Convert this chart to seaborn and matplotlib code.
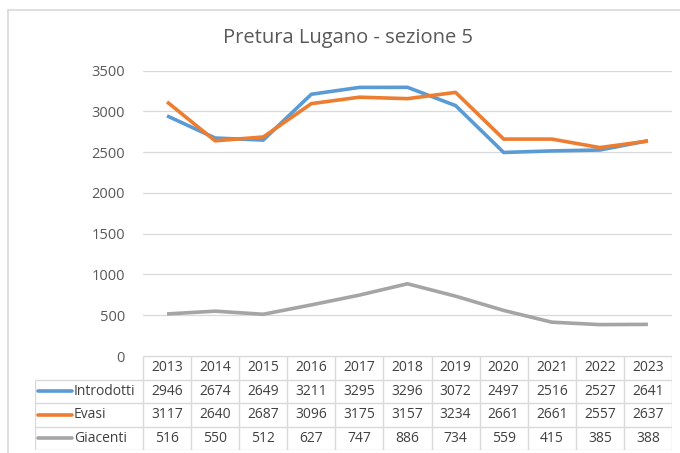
import matplotlib
matplotlib.use('Agg')
import matplotlib.pyplot as plt
import seaborn as sns
import pandas as pd
from matplotlib.patches import Rectangle

years = [2013, 2014, 2015, 2016, 2017, 2018, 2019, 2020, 2021, 2022, 2023]
introdotti = [2946, 2674, 2649, 3211, 3295, 3296, 3072, 2497, 2516, 2527, 2641]
evasi = [3117, 2640, 2687, 3096, 3175, 3157, 3234, 2661, 2661, 2557, 2637]
giacenti = [516, 550, 512, 627, 747, 886, 734, 559, 415, 385, 388]
series_names = ['Introdotti', 'Evasi', 'Giacenti']
colors = ['#5B9BD5', '#ED7D31', '#A5A5A5']
yticks = [0, 500, 1000, 1500, 2000, 2500, 3000, 3500]

sns.set_theme(style='white')
plt.rcParams['font.family'] = ['Open Sans', 'DejaVu Sans']

W, H = 680, 453
fig = plt.figure(figsize=(W / 100, H / 100), dpi=100)

def px_axes(x0, y0, x1, y1):
    # pixel box (top-left origin) -> figure fraction
    return fig.add_axes([x0 / W, 1 - y1 / H, (x1 - x0) / W, (y1 - y0) / H])

# chart border (cropped at right/bottom in the reference)
fig.patches.append(Rectangle((8 / W, -0.05), 1.2, 1 - 10 / H + 0.05, transform=fig.transFigure,
                             fill=False, edgecolor='#D9D9D9', linewidth=1.2))

df = pd.DataFrame({'idx': list(range(len(years))) * 3,
                   'value': introdotti + evasi + giacenti,
                   'serie': [s for s in series_names for _ in years]})

ax = px_axes(143, 70.7, 672, 356)
sns.lineplot(data=df, x='idx', y='value', hue='serie', palette=colors,
             linewidth=2.6, legend=False, ax=ax, solid_capstyle='butt')
ax.set_xlim(-0.5, len(years) - 0.5)
ax.set_ylim(0, 3500)
ax.set_yticks(yticks)
ax.set_yticklabels([str(t) for t in yticks], fontsize=10.5, color='#595959')
ax.tick_params(axis='y', length=0, pad=13)
ax.set_xticks([])
ax.set_xlabel('')
ax.set_ylabel('')
ax.grid(axis='y', color='#D9D9D9', linewidth=0.9)
ax.set_axisbelow(True)
for s in ax.spines.values():
    s.set_visible(False)
ax.patch.set_alpha(0)

fig.text(348 / W, 1 - 38 / H, 'Pretura Lugano - sezione 5', ha='center', va='center',
         fontsize=14.5, color='#595959')

# data table below the plot
tax = px_axes(35, 356, 672, 450)
colw = (672 - 143) / len(years)
left = -0.5 - (143 - 35) / colw
tax.set_xlim(left, len(years) - 0.5)
tax.set_ylim(0, 4)
tax.axis('off')
line_c = '#D9D9D9'
tax.hlines(4, -0.5, len(years) - 0.5, color=line_c, lw=1)
for r in [0, 1, 2, 3]:
    tax.hlines(r, left, len(years) - 0.5, color=line_c, lw=1)
for i in range(len(years) + 1):
    tax.vlines(i - 0.5, 0, 4, color=line_c, lw=1)
tax.vlines(left, 0, 3, color=line_c, lw=1)

tc = '#404040'
for i, y in enumerate(years):
    tax.text(i, 3.5, str(y), ha='center', va='center', fontsize=10, color=tc)
rows = [introdotti, evasi, giacenti]
for r, (name, vals, c) in enumerate(zip(series_names, rows, colors)):
    yc = 2.5 - r
    for i, v in enumerate(vals):
        tax.text(i, yc, str(v), ha='center', va='center', fontsize=10, color=tc)
    key_x0 = left + 3 / colw
    key_x1 = left + 37 / colw
    tax.plot([key_x0, key_x1], [yc, yc], color=c, lw=2.6, solid_capstyle='round')
    tax.text(key_x1 + 2 / colw, yc, name, ha='left', va='center', fontsize=10, color=tc)

fig.savefig('out.png', dpi=100)
